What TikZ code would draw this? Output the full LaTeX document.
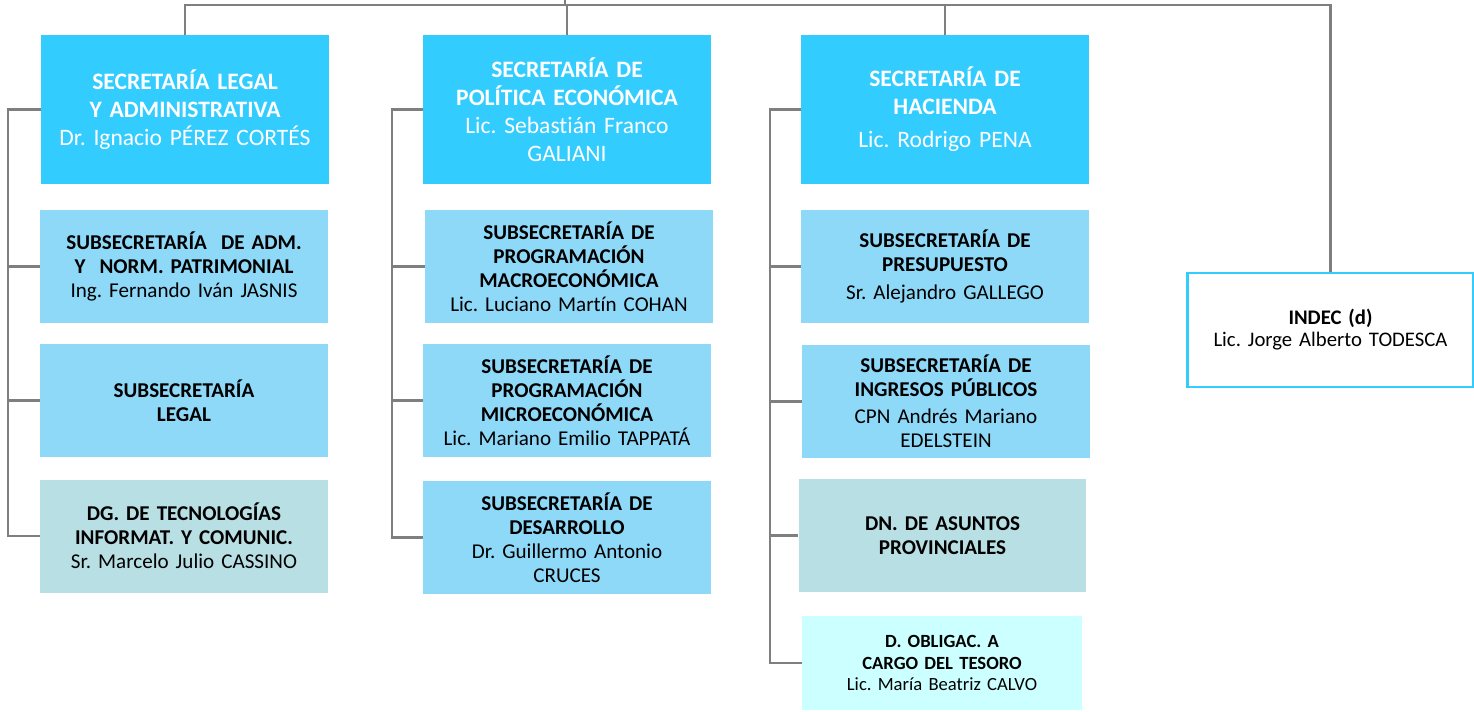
\documentclass[tikz,border=0pt]{standalone}
\usepackage{fontspec}
\setmainfont{Carlito}[Ligatures=NoCommon]
\usepackage{xcolor}
\usepackage{tikz}
\usetikzlibrary{positioning, calc}
\frenchspacing
\definecolor{secblue}{HTML}{33CCFF}
\definecolor{subblue}{HTML}{8ED8F8}
\definecolor{dirteal}{HTML}{B7DFE4}
\definecolor{palecyan}{HTML}{CCFFFF}
\definecolor{linegray}{HTML}{7F7F7F}
\tikzset{
  secbox/.style={rectangle,fill=secblue,text=white,inner sep=0pt,minimum width=5.76cm,minimum height=2.98cm,text width=5.6cm,align=center,font=\fontsize{13.4}{15.9}\selectfont},
  subbox/.style={rectangle,fill=subblue,inner sep=0pt,minimum width=5.76cm,minimum height=2.26cm,text width=5.6cm,align=center,font=\fontsize{12}{13.6}\selectfont},
  dirbox/.style={subbox,fill=dirteal},
  obox/.style={rectangle,fill=palecyan,inner sep=0pt,minimum width=5.6cm,minimum height=1.88cm,text width=5.4cm,align=center,font=\fontsize{10.6}{12.2}\selectfont},
  ibox/.style={rectangle,draw=secblue,line width=1.2pt,fill=white,inner sep=0pt,minimum width=5.72cm,minimum height=2.28cm,text width=5.5cm,align=center,font=\fontsize{11.8}{12.6}\selectfont},
  conn/.style={draw=linegray,line width=1.2pt}
}

\begin{document}
\begin{tikzpicture}[x=0.02cm, y=-0.02cm]
  \useasboundingbox (0,0) rectangle (1474,711);

  % Secretarías
  \node[secbox] (sl)  at (185,109.5) {\textbf{SECRETARÍA LEGAL}\\\textbf{Y ADMINISTRATIVA}\\Dr. Ignacio PÉREZ CORTÉS};
  \node[secbox] (spe) at (567,109.5) {\textbf{SECRETARÍA DE}\\\textbf{POLÍTICA ECONÓMICA}\\Lic. Sebastián Franco\\GALIANI};
  \node[secbox] (sh)  at (945,109.5) {\textbf{SECRETARÍA DE}\\\textbf{HACIENDA}\\[3pt]Lic. Rodrigo PENA\\[3pt]};
  \node[ibox]   (indec) at (1330.5,330) {\textbf{INDEC (d)}\\Lic. Jorge Alberto TODESCA};

  % Legal y Administrativa
  \node[subbox] (sl1) at (184,266.5) {\textbf{SUBSECRETARÍA~ DE ADM.}\\\textbf{Y~ NORM. PATRIMONIAL}\\Ing. Fernando Iván JASNIS};
  \node[subbox] (sl2) at (184,400.5) {\textbf{SUBSECRETARÍA}\\\textbf{LEGAL}};
  \node[dirbox] (sl3) at (184,536)   {\textbf{DG. DE TECNOLOGÍAS}\\\textbf{INFORMAT. Y COMUNIC.}\\Sr. Marcelo Julio CASSINO};

  % Política Económica
  \node[subbox] (spe1) at (569,266.5) {\textbf{SUBSECRETARÍA DE}\\\textbf{PROGRAMACIÓN}\\\textbf{MACROECONÓMICA}\\Lic. Luciano Martín COHAN};
  \node[subbox] (spe2) at (567,400.5) {\textbf{SUBSECRETARÍA DE}\\\textbf{PROGRAMACIÓN}\\\textbf{MICROECONÓMICA}\\Lic. Mariano Emilio TAPPATÁ};
  \node[subbox] (spe3) at (567,537.5) {\textbf{SUBSECRETARÍA DE}\\\textbf{DESARROLLO}\\Dr. Guillermo Antonio\\CRUCES};

  % Hacienda
  \node[subbox] (sh1) at (945,266.5) {\textbf{SUBSECRETARÍA DE}\\\textbf{PRESUPUESTO}\\[2pt]Sr. Alejandro GALLEGO};
  \node[subbox] (sh2) at (946,401.5) {\textbf{SUBSECRETARÍA DE}\\\textbf{INGRESOS PÚBLICOS}\\[2pt]CPN Andrés Mariano\\EDELSTEIN};
  \node[dirbox] (sh3) at (942.5,535.5) {\textbf{DN. DE ASUNTOS}\\\textbf{PROVINCIALES}};
  \node[obox]   (sh4) at (942,663)   {\textbf{D. OBLIGAC. A}\\\textbf{CARGO DEL TESORO}\\Lic. María Beatriz CALVO};

  % top bar
  \coordinate (root) at (565,0);
  \coordinate (bar)  at (565,5);
  \draw[conn] (root) -- (bar);
  \draw[conn] (sl.north) |- (bar) -| (indec.north);
  \draw[conn] (spe.north) -- (spe.north |- bar);
  \draw[conn] (sh.north) -- (sh.north |- bar);

  % side lines
  \coordinate (spineA) at (8,0);
  \coordinate (spineB) at (392,0);
  \coordinate (spineC) at (770,0);
  \draw[conn] (sl.west) -- (sl.west -| spineA) |- (sl3.west);
  \draw[conn] (spineA |- sl1.west) -- (sl1.west);
  \draw[conn] (spineA |- sl2.west) -- (sl2.west);
  \draw[conn] (spe.west) -- (spe.west -| spineB) |- (spe3.west);
  \draw[conn] (spineB |- spe1.west) -- (spe1.west);
  \draw[conn] (spineB |- spe2.west) -- (spe2.west);
  \draw[conn] (sh.west) -- (sh.west -| spineC) |- (sh4.west);
  \draw[conn] (spineC |- sh1.west) -- (sh1.west);
  \draw[conn] (spineC |- sh2.west) -- (sh2.west);
  \draw[conn] (spineC |- sh3.west) -- (sh3.west);
\end{tikzpicture}
\end{document}
